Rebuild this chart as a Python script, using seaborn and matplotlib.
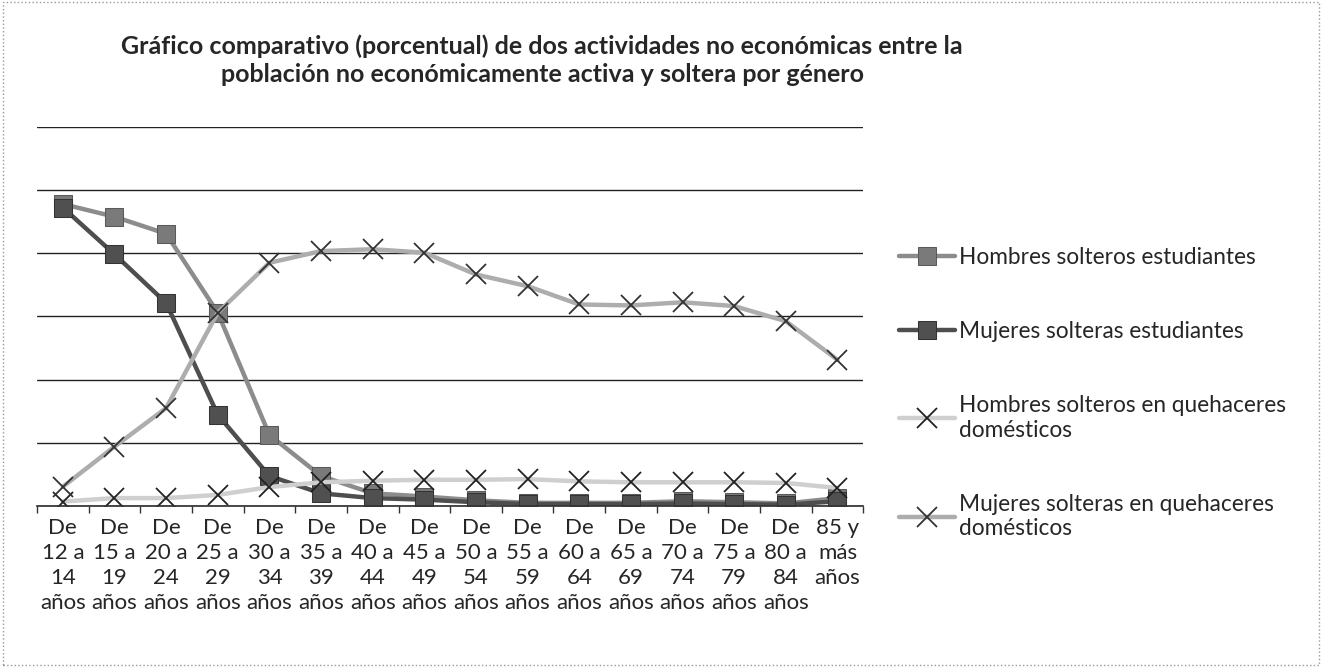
import numpy as np
import pandas as pd
import matplotlib.pyplot as plt
import matplotlib.patches as mpatches
import seaborn as sns

categories = ["12 a\n14", "15 a\n19", "20 a\n24", "25 a\n29", "30 a\n34", "35 a\n39",
              "40 a\n44", "45 a\n49", "50 a\n54", "55 a\n59", "60 a\n64", "65 a\n69",
              "70 a\n74", "75 a\n79", "80 a\n84", "85 y"]
tick_labels = ["De\n" + c + "\naños" for c in categories[:-1]] + ["85 y\nmás\naños"]

series_names = [
    "Hombres solteros estudiantes",
    "Mujeres solteras estudiantes",
    "Hombres solteros en quehaceres\ndomésticos",
    "Mujeres solteras en quehaceres\ndomésticos",
]
hombres_est = [95.6, 91.6, 86.2, 61.2, 22.5, 9.5, 4.0, 3.0, 1.8, 1.0, 1.0, 1.0, 1.5, 1.2, 0.8, 2.5]
mujeres_est = [94.5, 79.7, 64.3, 28.9, 9.5, 4.0, 2.5, 2.0, 1.2, 0.6, 0.6, 0.6, 0.8, 0.6, 0.4, 1.5]
hombres_dom = [1.4, 2.5, 2.5, 3.5, 6.0, 7.5, 8.0, 8.3, 8.3, 8.5, 7.8, 7.5, 7.5, 7.5, 7.3, 5.7]
mujeres_dom = [6.1, 18.8, 31.0, 61.2, 77.0, 80.7, 81.3, 80.2, 73.3, 69.6, 63.8, 63.5, 64.5, 63.3, 58.5, 46.3]

sns.set_theme(style="white")
plt.rcParams["font.family"] = ["Lato", "DejaVu Sans"]

fig = plt.figure(figsize=(13.22, 6.67), dpi=100)
ax = fig.add_axes([0.028, 0.2414, 0.625, 0.5682])

x = np.arange(len(categories))
styles = [
    dict(color="#8c8c8c", marker="s", markersize=13, markerfacecolor="#7a7a7a", markeredgecolor="#5a5a5a"),
    dict(color="#4e4e4e", marker="s", markersize=13, markerfacecolor="#505050", markeredgecolor="#333333"),
    dict(color="#cfcfcf", marker="x", markersize=14, markeredgecolor="#222222", markeredgewidth=1.3),
    dict(color="#adadad", marker="x", markersize=14, markeredgecolor="#333333", markeredgewidth=1.3),
]
for name, vals, st in zip(series_names, [hombres_est, mujeres_est, hombres_dom, mujeres_dom], styles):
    sns.lineplot(x=x, y=vals, ax=ax, label=name, linewidth=3.2, **st)

ax.set_xlim(-0.5, len(categories) - 0.5)
ax.set_ylim(0, 120)
ax.set_yticks(np.arange(0, 121, 20))
ax.set_yticklabels([])
ax.yaxis.grid(True, color="#222222", linewidth=1)
ax.xaxis.grid(False)
ax.set_xticks(x)
ax.set_xticklabels(tick_labels, fontsize=16, linespacing=1.3)
ax.set_xticks(np.arange(-0.5, len(categories), 1), minor=True)
ax.tick_params(axis="x", which="major", length=0, pad=9)
ax.tick_params(axis="x", which="minor", length=5, color="#333333", width=1, bottom=True)
ax.tick_params(axis="y", length=0)
for s in ["left", "right", "top"]:
    ax.spines[s].set_visible(False)
ax.spines["bottom"].set_color("#333333")
ax.set_xlabel("")
ax.set_ylabel("")

ax.legend(loc="upper left", bbox_to_anchor=(1.043, 0.684), frameon=False, fontsize=16.3,
          handlelength=2.5, handletextpad=0.15, labelspacing=2.35,
          borderpad=0, borderaxespad=0)

fig.text(0.41, 0.91,
         "Gráfico comparativo (porcentual) de dos actividades no económicas entre la\n"
         "población no económicamente activa y soltera por género",
         ha="center", va="center", fontsize=18, fontweight="bold", linespacing=1.25)

fig.patches.append(mpatches.Rectangle((0.002, 0.003), 0.996, 0.994, transform=fig.transFigure,
                                      fill=False, edgecolor="#999999", linewidth=1, linestyle=":"))

fig.savefig("out.png", dpi=100)
